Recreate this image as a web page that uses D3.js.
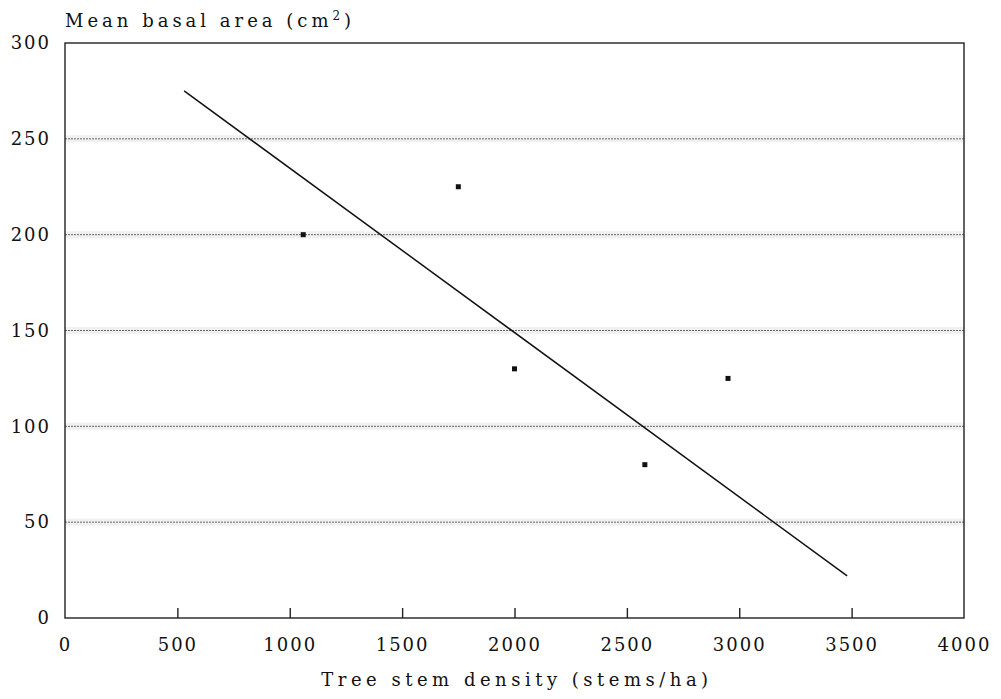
<!DOCTYPE html>
<html>
<head>
<meta charset="utf-8">
<script src="https://cdn.jsdelivr.net/npm/d3@7"></script>
<style>
  body { margin: 0; background: #fff; }
  text { font-family: "DejaVu Serif", "Liberation Serif", serif; fill: #111; }
</style>
</head>
<body>
<script>
// data
const pointX = [1060, 1750, 2000, 2580, 2950];
const pointY = [200, 225, 130, 80, 125];
const fitX = [530, 3480];
const fitY = [275, 22];
const xTicks = [0, 500, 1000, 1500, 2000, 2500, 3000, 3500, 4000];
const yTicks = [0, 50, 100, 150, 200, 250, 300];
const gridY = [50, 100, 150, 200, 250];

const width = 1001, height = 699;
const marginLeft = 65, marginRight = 37, marginTop = 43, marginBottom = 81;

const x = d3.scaleLinear().domain([0, 4000]).range([marginLeft, width - marginRight]);
const y = d3.scaleLinear().domain([0, 300]).range([height - marginBottom, marginTop]);

const svg = d3.select("body").append("svg")
  .attr("width", width)
  .attr("height", height);

// gridlines: faint band + dotted line
svg.append("g")
  .selectAll("line")
  .data(gridY)
  .join("line")
    .attr("x1", x(0)).attr("x2", x(4000))
    .attr("y1", d => y(d)).attr("y2", d => y(d))
    .attr("stroke", "#f0f0f0")
    .attr("stroke-width", 7);

svg.append("g")
  .selectAll("line")
  .data(gridY)
  .join("line")
    .attr("x1", x(0)).attr("x2", x(4000))
    .attr("y1", d => y(d)).attr("y2", d => y(d))
    .attr("stroke", "#666")
    .attr("stroke-width", 1)
    .attr("stroke-dasharray", "2,1");

// frame
svg.append("rect")
  .attr("x", x(0)).attr("y", y(300))
  .attr("width", x(4000) - x(0))
  .attr("height", y(0) - y(300))
  .attr("fill", "none")
  .attr("stroke", "#222")
  .attr("stroke-width", 1.4);

// x axis, ticks pointing up
svg.append("g")
  .attr("transform", `translate(0,${y(0)})`)
  .call(d3.axisBottom(x).tickValues(xTicks).tickSize(-10).tickPadding(20).tickFormat(d3.format("d")))
  .call(g => g.select(".domain").remove())
  .call(g => g.selectAll(".tick line").attr("stroke", "#222").attr("stroke-width", 1.4))
  .call(g => g.selectAll(".tick").filter(d => d === 0 || d === 4000).select("line").remove())
  .call(g => g.selectAll("text")
    .style("font-size", "18px")
    .style("letter-spacing", "2px")
    .attr("fill", "#111"));

// y axis labels
svg.append("g")
  .attr("transform", `translate(${x(0)},0)`)
  .call(d3.axisLeft(y).tickValues(yTicks).tickSize(0).tickPadding(14).tickFormat(d3.format("d")))
  .call(g => g.select(".domain").remove())
  .call(g => g.selectAll("text")
    .style("font-size", "18px")
    .style("letter-spacing", "2px")
    .attr("fill", "#111"));

// fitted line
svg.append("line")
  .attr("x1", x(fitX[0])).attr("y1", y(fitY[0]))
  .attr("x2", x(fitX[1])).attr("y2", y(fitY[1]))
  .attr("stroke", "#111")
  .attr("stroke-width", 1.5);

// points
const pts = pointX.map((v, i) => ({ x: v, y: pointY[i] }));
svg.append("g")
  .selectAll("rect")
  .data(pts)
  .join("rect")
    .attr("x", d => x(d.x) - 2.5)
    .attr("y", d => y(d.y) - 2.5)
    .attr("width", 5)
    .attr("height", 5)
    .attr("fill", "#111");

// axis titles
const yTitle = svg.append("text")
  .attr("x", 65)
  .attr("y", 27)
  .style("font-size", "18px")
  .style("letter-spacing", "4px");
yTitle.append("tspan").text("Mean basal area (cm");
yTitle.append("tspan").attr("dy", -7).style("font-size", "12px").text("2");
yTitle.append("tspan").attr("dy", 7).text(")");

svg.append("text")
  .attr("x", 517)
  .attr("y", 686)
  .attr("text-anchor", "middle")
  .style("font-size", "18px")
  .style("letter-spacing", "4.5px")
  .text("Tree stem density (stems/ha)");
</script>
</body>
</html>
